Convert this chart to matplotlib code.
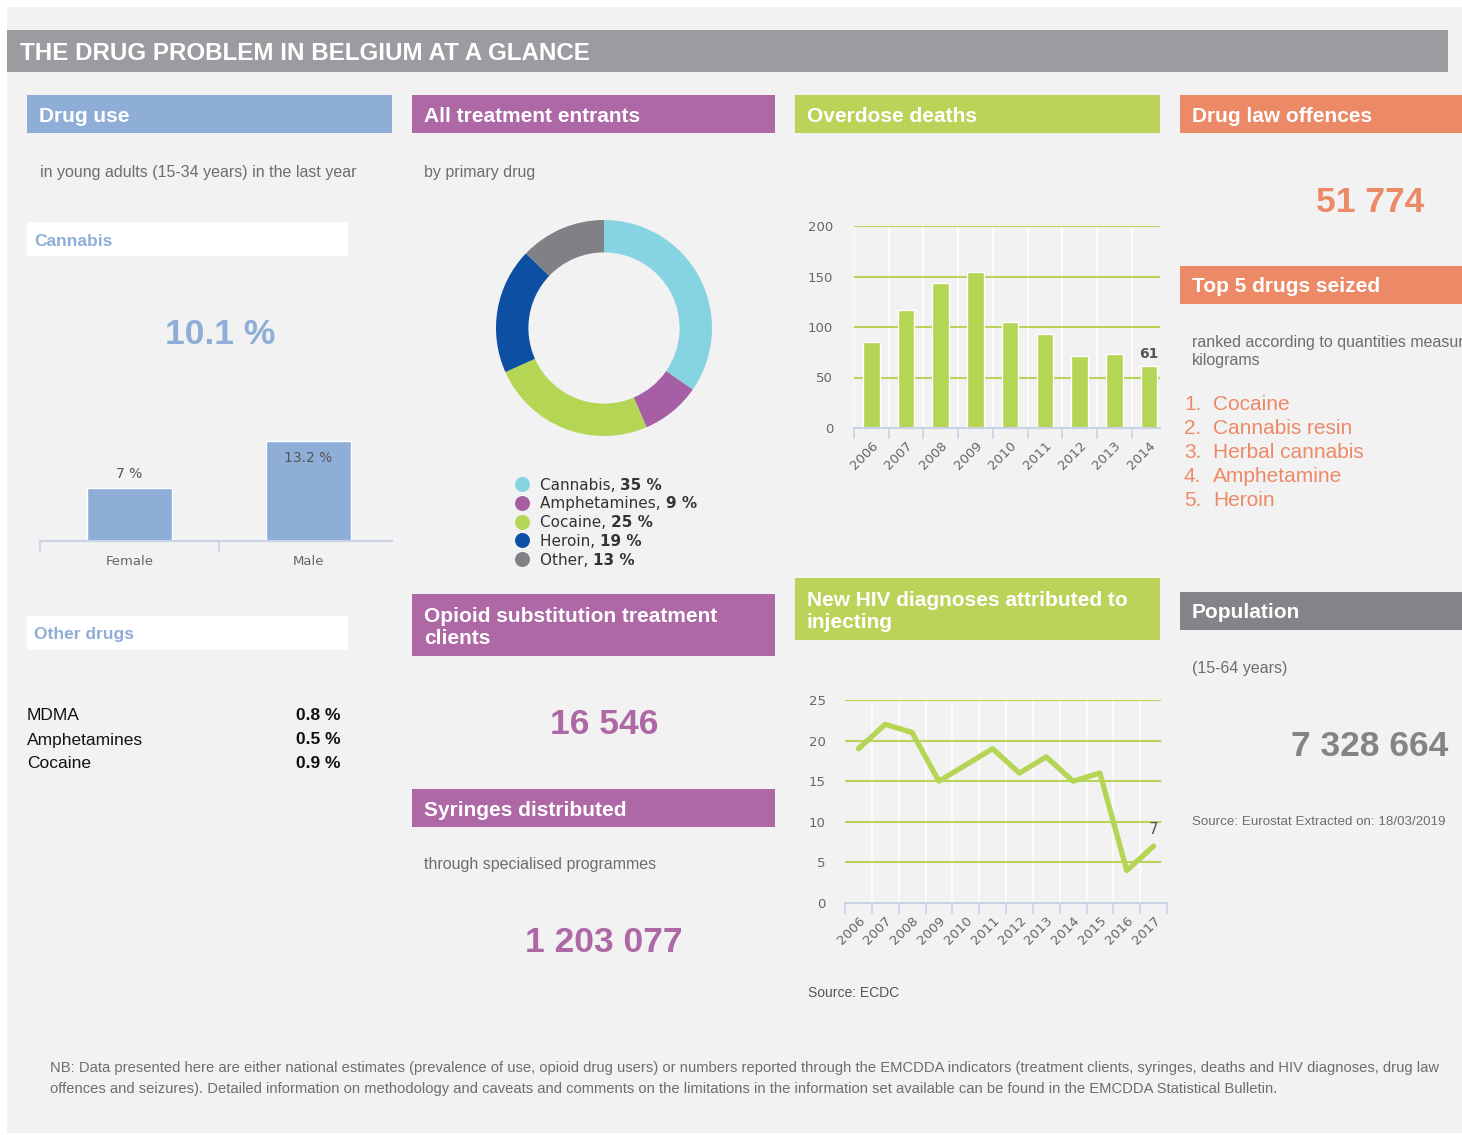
"""
The drug problem in Belgium at a glance - infographic recreation
"""

import matplotlib.pyplot as plt
from matplotlib.patches import Rectangle

W, H = 1462, 1135

# Data
use_groups = ['Female', 'Male']
use_values = [7, 13.2]
cannabis_young = 10.1

other_drugs = ['MDMA', 'Amphetamines', 'Cocaine']
other_values = [0.8, 0.5, 0.9]

entrant_drugs = ['Cannabis', 'Amphetamines', 'Cocaine', 'Heroin', 'Other']
entrant_shares = [35, 9, 25, 19, 13]
entrant_colors = ['#86d3e1', '#a65ea5', '#b5d554', '#0c4fa3', '#808184']

od_years = ['2006', '2007', '2008', '2009', '2010', '2011', '2012', '2013', '2014']
od_deaths = [85, 117, 144, 154, 105, 93, 71, 73, 61]

hiv_years = ['2006', '2007', '2008', '2009', '2010', '2011', '2012', '2013',
             '2014', '2015', '2016', '2017']
hiv_cases = [19, 22, 21, 15, 17, 19, 16, 18, 15, 16, 4, 7]

seized_drugs = ['Cocaine', 'Cannabis resin', 'Herbal cannabis', 'Amphetamine', 'Heroin']

offences = 51774
ost_clients = 16546
syringes = 1203077
population = 7328664

# Colours
BG = '#f2f2f2'
TITLE_GREY = '#9d9b9f'
BLUE = '#8eaed8'
PURPLE = '#ae68a6'
GREEN = '#bcd35a'
LINE_GREEN = '#b5d554'
ORANGE = '#ec8a68'
POP_GREY = '#858387'
TEXT_GREY = '#6d6d6d'
AXIS_BLUE = '#c8d3e6'

SANS = 'Liberation Sans'
CHART = 'DejaVu Sans'


def fmt(n):
    return f"{n:,}".replace(',', ' ')


fig = plt.figure(figsize=(W / 100, H / 100), dpi=100, facecolor='white')

bg = fig.add_axes([0, 0, 1, 1])
bg.set_xlim(0, W)
bg.set_ylim(H, 0)
bg.axis('off')


def px_axes(x0, y0, x1, y1):
    ax = fig.add_axes([x0 / W, 1 - y1 / H, (x1 - x0) / W, (y1 - y0) / H])
    ax.patch.set_visible(False)
    return ax


def box(x0, y0, x1, y1, color):
    bg.add_patch(Rectangle((x0, y0), x1 - x0, y1 - y0, facecolor=color,
                           edgecolor='none'))


def header(x0, y0, x1, y1, color, text):
    box(x0, y0, x1, y1, color)
    bg.text(x0 + 12, (y0 + y1) / 2 + 2, text, color='white', fontsize=15,
            fontweight='bold', family=SANS, va='center', ha='left',
            linespacing=1.2)


def txt(x, y, s, size=11.5, color=TEXT_GREY, weight='normal', ha='left',
        family=SANS, dy=2):
    bg.text(x, y + dy, s, fontsize=size, color=color, fontweight=weight,
            family=family, ha=ha, va='center')


# Page background and title
box(7, 7, W, 1133, BG)
box(7, 30, 1448, 72, TITLE_GREY)
bg.text(20, 53, 'THE DRUG PROBLEM IN BELGIUM AT A GLANCE', color='white',
        fontsize=17.4, fontweight='bold', family=SANS, va='center')

# Section headers
header(27, 95, 392, 133, BLUE, 'Drug use')
header(412, 95, 775, 133, PURPLE, 'All treatment entrants')
header(795, 95, 1160, 133, GREEN, 'Overdose deaths')
header(1180, 95, W, 133, ORANGE, 'Drug law offences')
header(1180, 266, W, 304, ORANGE, 'Top 5 drugs seized')
header(412, 594, 775, 656, PURPLE, 'Opioid substitution treatment\nclients')
header(795, 578, 1160, 640, GREEN, 'New HIV diagnoses attributed to\ninjecting')
header(412, 789, 775, 827, PURPLE, 'Syringes distributed')
header(1180, 592, W, 630, POP_GREY, 'Population')

# Drug use column
txt(40, 170, 'in young adults (15-34 years) in the last year')
box(27, 222, 348, 256, 'white')
txt(34, 239, 'Cannabis', size=12.5, color=BLUE, weight='bold')
txt(220, 331, f'{cannabis_young} %', size=25.5, color=BLUE, weight='bold',
    ha='center', dy=3)

box(27, 616, 348, 650, 'white')
txt(34, 633, 'Other drugs', size=12.5, color=BLUE, weight='bold')
for i, (name, val) in enumerate(zip(other_drugs, other_values)):
    y = 714 + i * 24
    txt(27, y, name, size=12.5, color='#111111')
    txt(296, y, f'{val} %', size=12.5, color='#111111', weight='bold')

# Cannabis by gender bars
ax_u = px_axes(40, 420, 392, 541)
xpos = list(range(len(use_groups)))
bars = ax_u.bar(xpos, use_values, width=0.48, color=BLUE, edgecolor='white',
                linewidth=1)
ax_u.set_xlim(-0.5, -0.5 + 352 / 179)
ax_u.set_ylim(0, 16)
ax_u.set_yticks([])
for s in ['top', 'right', 'left']:
    ax_u.spines[s].set_visible(False)
ax_u.spines['bottom'].set_color(AXIS_BLUE)
ax_u.spines['bottom'].set_linewidth(1.5)
ax_u.set_xticks(xpos, use_groups)
ax_u.set_xticks([-0.5, 0.5], minor=True)
ax_u.tick_params(axis='x', which='major', length=0, pad=10, labelsize=9.5,
                 labelcolor='#666666')
ax_u.tick_params(axis='x', which='minor', length=8, color=AXIS_BLUE, width=1.2)
for lab in ax_u.get_xticklabels():
    lab.set_family(CHART)
ax_u.annotate(f'{use_values[0]} %', (xpos[0], use_values[0]), xytext=(0, 10),
              textcoords='offset points', ha='center', va='center',
              fontsize=10, color='#555555', family=CHART)
ax_u.annotate(f'{use_values[1]} %', (xpos[1], use_values[1]), xytext=(0, -12),
              textcoords='offset points', ha='center', va='center',
              fontsize=10, color='#555555', family=CHART)

# Treatment entrants donut
txt(424, 170, 'by primary drug')
ax_d = px_axes(496, 220, 712, 436)
ax_d.pie(entrant_shares, colors=entrant_colors, startangle=90,
         counterclock=False, radius=1,
         wedgeprops=dict(width=0.3, edgecolor='none'))
ax_d.set_xlim(-1, 1)
ax_d.set_ylim(-1, 1)
ax_d.set_aspect('equal')

for i, (name, share, col) in enumerate(zip(entrant_drugs, entrant_shares, entrant_colors)):
    y = 484 + i * 18.8
    bg.scatter([522], [y], s=95, color=col, zorder=3)
    t1 = bg.text(540, y + 1, f'{name}, ', fontsize=11, color='#333333',
                 family=CHART, va='center', ha='left')
    bg.annotate(f'{share} %', xy=(1, 0.5), xycoords=t1, va='center', ha='left',
                fontsize=11, color='#333333', family=CHART, fontweight='bold')

# OST / syringes
txt(604, 721, fmt(ost_clients), size=25.5, color=PURPLE, weight='bold',
    ha='center', dy=3)
txt(424, 863, 'through specialised programmes')
txt(604, 940, fmt(syringes), size=25.5, color=PURPLE, weight='bold',
    ha='center', dy=3)

# Overdose deaths bar chart
ax_o = px_axes(854, 226, 1160, 428)
opos = list(range(len(od_years)))
ax_o.bar(opos, od_deaths, width=0.48, color=LINE_GREEN, edgecolor='white',
         linewidth=1, zorder=3)
ax_o.set_xlim(-0.5, -0.5 + 306 / 34.7)
ax_o.set_ylim(0, 200)
ax_o.set_yticks([0, 50, 100, 150, 200])
for yv in [50, 100, 150, 200]:
    ax_o.axhline(yv, color=GREEN, linewidth=1.5, zorder=2)
for xb in [p - 0.5 for p in opos]:
    ax_o.axvline(xb, color='white', linewidth=1.2, zorder=1)
for s in ['top', 'right', 'left']:
    ax_o.spines[s].set_visible(False)
ax_o.spines['bottom'].set_color(AXIS_BLUE)
ax_o.spines['bottom'].set_linewidth(1.5)
ax_o.spines['bottom'].set_zorder(4)
ax_o.set_xticks(opos, od_years, rotation=45, ha='right', rotation_mode='anchor')
ax_o.set_xticks([p - 0.5 for p in opos], minor=True)
ax_o.tick_params(axis='x', which='major', length=0, pad=8, labelsize=9.5,
                 labelcolor='#666666')
ax_o.tick_params(axis='x', which='minor', length=8, color=AXIS_BLUE, width=1.2)
ax_o.tick_params(axis='y', length=0, pad=15, labelsize=9.5, labelcolor='#666666')
for lab in ax_o.get_xticklabels() + ax_o.get_yticklabels():
    lab.set_family(CHART)
ax_o.annotate(str(od_deaths[-1]), (opos[-1], od_deaths[-1]), xytext=(0, 9),
              textcoords='offset points', ha='center', va='center',
              fontsize=10, color='#555555', family=CHART, fontweight='bold',
              annotation_clip=False)

# HIV line chart
ax_h = px_axes(845, 700, 1167, 903)
hpos = list(range(len(hiv_years)))
ax_h.set_xlim(-0.5, 11.5)
ax_h.set_ylim(0, 25)
ax_h.set_yticks([0, 5, 10, 15, 20, 25])
for yv in [5, 10, 15, 20, 25]:
    ax_h.axhline(yv, xmax=(1160 - 845) / (1167 - 845), color=GREEN,
                 linewidth=1.5, zorder=2)
for xb in [p + 0.5 for p in hpos[:-1]]:
    ax_h.axvline(xb, color='white', linewidth=1.2, zorder=1)
ax_h.plot(hpos, hiv_cases, color=LINE_GREEN, linewidth=3.8, zorder=3,
          solid_capstyle='round', solid_joinstyle='round')
for s in ['top', 'right', 'left']:
    ax_h.spines[s].set_visible(False)
ax_h.spines['bottom'].set_color(AXIS_BLUE)
ax_h.spines['bottom'].set_linewidth(1.5)
ax_h.set_xticks(hpos, hiv_years, rotation=45, ha='right', rotation_mode='anchor')
ax_h.set_xticks([p - 0.5 for p in hpos] + [11.5], minor=True)
ax_h.tick_params(axis='x', which='major', length=0, pad=8, labelsize=9.5,
                 labelcolor='#666666')
ax_h.tick_params(axis='x', which='minor', length=8, color=AXIS_BLUE, width=1.2)
ax_h.tick_params(axis='y', length=0, pad=14, labelsize=9.5, labelcolor='#666666')
for lab in ax_h.get_xticklabels() + ax_h.get_yticklabels():
    lab.set_family(CHART)
ax_h.annotate(str(hiv_cases[-1]), (hpos[-1], hiv_cases[-1]), xytext=(0, 12),
              textcoords='offset points', ha='center', va='center',
              fontsize=11, color='#555555', family=CHART)
txt(808, 991, 'Source: ECDC', size=10, color='#555555')

# Right column
txt(1370, 200, fmt(offences), size=25.5, color=ORANGE, weight='bold',
    ha='center', dy=3)
txt(1192, 341, 'ranked according to quantities measured in', size=11.5)
txt(1192, 359, 'kilograms', size=11.5)
for i, name in enumerate(seized_drugs):
    y = 403 + i * 24
    txt(1184, y, f'{i + 1}.', size=15, color=ORANGE)
    txt(1213, y, name, size=15, color=ORANGE)

txt(1192, 667, '(15-64 years)', size=11.5)
txt(1370, 744, fmt(population), size=25.5, color=POP_GREY, weight='bold',
    ha='center', dy=3)
txt(1192, 820, 'Source: Eurostat Extracted on: 18/03/2019', size=9.6)

# Footnote
txt(50, 1066, 'NB: Data presented here are either national estimates (prevalence of use, '
    'opioid drug users) or numbers reported through the EMCDDA indicators (treatment '
    'clients, syringes, deaths and HIV diagnoses, drug law', size=10.6)
txt(50, 1087, 'offences and seizures). Detailed information on methodology and caveats '
    'and comments on the limitations in the information set available can be found '
    'in the EMCDDA Statistical Bulletin.', size=10.6)

fig.savefig('out.png', dpi=100, facecolor='white')
